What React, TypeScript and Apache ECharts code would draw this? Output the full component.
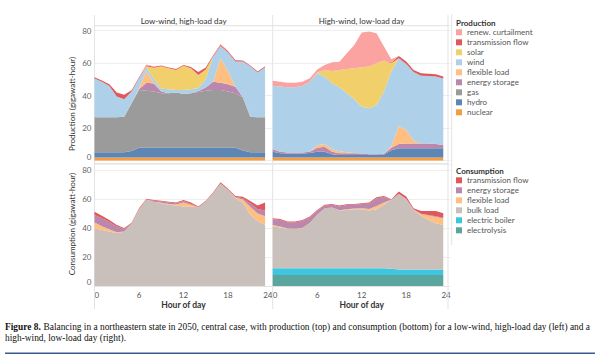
import React, { useEffect, useRef } from 'react';
import * as echarts from 'echarts';

const HOUR_CATS = ['0', '1', '2', '3', '4', '5', '6', '7', '8', '9', '10', '11', '12', '13', '14', '15', '16', '17', '18', '19', '20', '21', '22', '23', '24'];
const X_TICK_LABELS = ['0', '6', '12', '18', '24'];
const Y_TICKS = [0, 20, 40, 60, 80];

const PANEL_TITLES = ['Low-wind, high-load day', 'High-wind, low-load day'];
const PROD_NAMES = ['renew. curtailment', 'transmission flow', 'solar', 'wind', 'flexible load', 'energy storage', 'gas', 'hydro', 'nuclear'];
const CONS_NAMES = ['transmission flow', 'energy storage', 'flexible load', 'bulk load', 'electric boiler', 'electrolysis'];

// Low-wind, high-load day — production (hours 0..23)
const LP_nuclear = [1.9, 1.9, 1.9, 1.9, 1.9, 1.9, 1.9, 1.9, 1.9, 1.9, 1.9, 1.9, 1.9, 1.9, 1.9, 1.9, 1.9, 1.9, 1.9, 1.9, 1.9, 1.9, 1.9, 1.9];
const LP_hydro = [3.3, 3.3, 3.3, 3.3, 3.3, 4.1, 6.1, 6.1, 6.1, 6.1, 6.1, 6.1, 6.1, 6.1, 6.1, 6.1, 6.1, 6.1, 6.1, 6.1, 4.3, 3.3, 3.3, 3.3];
const LP_gas = [21.5, 21.5, 21.5, 21.5, 21.8, 29.3, 35.5, 35, 34.6, 33.5, 33.5, 33.9, 33, 33.5, 34.3, 35, 35.5, 35.5, 34.6, 33.5, 32.8, 21.8, 21.5, 21.5];
const LP_storage = [0, 0, 0, 0, 0, 0, 0.5, 5, 4.9, 1, 0, 0, 0, 0, 0.5, 2, 5, 4.5, 4.4, 4, 0, 0, 0, 0];
const LP_flex = [0, 0, 0, 0, 0, 0, 0.5, 7, 0.5, 0, 0, 0, 0, 0, 0, 0, 0, 15, 8, 0, 0, 0, 0, 0];
const LP_wind = [23.8, 21.8, 19.3, 12.8, 10.8, 7.2, 6, 2.5, 2.4, 1.7, 2.4, 1.6, 2.5, 2.4, 1.9, 5, 15.5, 7.5, 11.5, 15.5, 22, 31, 27.6, 30.8];
const LP_solar = [0, 0, 0, 0, 0, 0, 0, 0.5, 6.8, 13.8, 12.9, 12.3, 14.8, 13, 8, 6, 0, 0, 0, 0, 0, 0, 0, 0];
const LP_trans = [0.8, 0.8, 1, 2.5, 2.7, 0.8, 0.6, 0.7, 0.5, 0.5, 0.5, 0.6, 0.6, 0.7, 1.8, 1.3, 0.7, 0.8, 0.8, 0.7, 0.6, 0.6, 0.6, 0.6];
const LP_curt = [0, 0, 0, 0, 0, 0, 0.3, 0.4, 0.3, 0, 0, 0, 0, 0, 0, 0, 0.3, 0.4, 0.3, 0, 0, 0, 0, 0];

// High-wind, low-load day — production
const RP_nuclear = [1.9, 1.9, 1.9, 1.9, 1.9, 1.9, 1.9, 1.9, 1.9, 1.9, 1.9, 1.9, 1.9, 1.9, 1.9, 1.9, 1.9, 1.9, 1.9, 1.9, 1.9, 1.9, 1.9, 1.9];
const RP_hydro = [3.6, 2.7, 2.6, 2.6, 2.6, 2.9, 3.6, 3.6, 2.1, 1.6, 1.6, 1.6, 1.6, 1.6, 1.6, 1.9, 4.6, 5.7, 5.7, 5.7, 5.7, 5.7, 5.7, 5.7];
const RP_gas = [0, 0, 0, 0, 0, 0, 0, 0, 0, 0, 0, 0, 0, 0, 0, 0, 0, 0, 0, 0, 0, 0, 0, 0];
const RP_storage = [1.5, 0.9, 0.5, 0.5, 0.5, 0.7, 2.5, 3.1, 1.5, 1.1, 1.1, 1.1, 0.9, 0.5, 0.5, 0.4, 1.5, 2.7, 3.0, 3.0, 3.0, 2.9, 2.7, 2.0];
const RP_flex = [0, 0, 0, 0, 0, 0, 1.5, 1.7, 1.5, 1.2, 0.6, 0.2, 0.1, 0, 0, 0, 1, 11.1, 8.3, 1.7, 0, 0, 0, 0];
const RP_wind = [39.0, 40.1, 40.1, 40.1, 41.0, 43.1, 44.3, 41.4, 40.6, 39.3, 36.3, 33.0, 28.7, 28.2, 30.3, 38.3, 45.8, 41.6, 40.6, 42.2, 41.7, 41.5, 41.5, 40.9];
const RP_solar = [0, 0, 0, 0, 0, 0, 0.5, 4.1, 7.6, 10.7, 14.9, 19.0, 24.3, 25.7, 25.6, 19.1, 5.1, 0, 0, 0, 0, 0, 0, 0];
const RP_trans = [0, 0, 0, 0, 0, 0, 0, 0, 0, 0, 0, 0, 0, 0, 0, 0, 0.5, 1.4, 1.5, 1.3, 1.5, 1.4, 1.4, 1.2];
const RP_curt = [3.2, 3.0, 2.9, 2.9, 2.6, 2.1, 1.7, 3.1, 5.3, 5.1, 9.7, 14.4, 21.3, 21.5, 18.5, 8.6, 2.0, 0, 0, 0, 0, 0, 0, 0];

// Low-wind, high-load day — consumption
const LC_electrolysis = [0, 0, 0, 0, 0, 0, 0, 0, 0, 0, 0, 0, 0, 0, 0, 0, 0, 0, 0, 0, 0, 0, 0, 0];
const LC_boiler = [0, 0, 0, 0, 0, 0, 0, 0, 0, 0, 0, 0, 0, 0, 0, 0, 0, 0, 0, 0, 0, 0, 0, 0];
const LC_bulk = [39.8, 38.6, 37.5, 36.3, 37.5, 43, 52.9, 59.5, 58, 57, 55.9, 55.4, 54.8, 54.5, 54.3, 58.2, 64, 70.5, 66.2, 60.5, 57.5, 49, 44.8, 42];
const LC_flex = [3.9, 2.5, 1.5, 0.7, 0, 0, 0, 0, 0, 0.3, 0.6, 0.8, 2.7, 1.5, 0, 0, 0, 0, 0, 0.5, 2, 5.5, 5.2, 6];
const LC_storage = [5.2, 5.6, 5, 4, 2, 0, 0, 0, 0.7, 0.9, 1, 0.8, 1, 0.5, 0, 0, 0, 0, 0, 0.2, 1, 2.5, 3, 4];
const LC_trans = [2.3, 1.6, 1.5, 1, 0.5, 0.5, 0.6, 0.5, 0.5, 0.5, 0.5, 0.5, 0.7, 1, 0.5, 0.5, 0.5, 1, 0.8, 0.8, 1, 1.5, 2.5, 5.5];

// High-wind, low-load day — consumption
const RC_electrolysis = [7.6, 7.6, 7.6, 7.6, 7.6, 7.6, 7.6, 7.6, 7.6, 7.6, 7.6, 7.6, 7.6, 7.6, 7.6, 7.6, 7.6, 7.6, 7.6, 7.6, 7.6, 7.6, 7.6, 7.6];
const RC_boiler = [4.6, 4.6, 4.6, 4.6, 4.6, 4.6, 4.6, 4.6, 4.6, 4.6, 4.6, 4.6, 4.6, 4.6, 4.6, 4.6, 4.2, 3.8, 3.8, 3.8, 3.8, 3.8, 3.8, 3.8];
const RC_bulk = [28.7, 28.0, 27.1, 27.1, 27.6, 31.0, 36.7, 41.3, 41.8, 39.7, 40.2, 40.7, 40.7, 39.7, 40.7, 43.7, 47.5, 52.1, 47.9, 41.0, 36.9, 34.1, 31.8, 30.6];
const RC_flex = [1.1, 0.8, 0.3, 0.2, 0.2, 0.2, 0.1, 0.1, 0.1, 0.3, 0.4, 0.4, 0.6, 1.1, 2.1, 1.6, 0, 0, 0.2, 0.1, 1.2, 3, 4.3, 4.5];
const RC_storage = [4, 4.5, 4.2, 4.3, 5, 3.8, 2.8, 1.7, 1.9, 2.6, 2.9, 2.7, 3, 3.8, 5.3, 3.8, 0, 0, 0.5, 0.3, 0.3, 0.3, 0.5, 0.5];
const RC_trans = [0.7, 0.7, 0.6, 0.6, 0.5, 0.6, 0.6, 0.6, 0.5, 0.6, 0.6, 0.5, 0.5, 0.7, 0.8, 0.7, 0.5, 1.5, 1.6, 0.7, 1.9, 2.9, 3.7, 3.1];

const COLORS: Record<string, string> = {
  'renew. curtailment': '#fba3a0',
  'transmission flow': '#e0585b',
  solar: '#f1d06b',
  wind: '#aed0e8',
  'flexible load': '#ffbf80',
  'energy storage': '#bb87ac',
  gas: '#9b9b9b',
  hydro: '#5d86b4',
  nuclear: '#f59c3e',
  'bulk load': '#c9bfbb',
  'electric boiler': '#3ec6e0',
  electrolysis: '#5aa59e',
};

const UI_FONT = 'Lato, "Open Sans", sans-serif';

function area(name: string, values: number[], idx: number) {
  const c = COLORS[name];
  return {
    type: 'line',
    name,
    xAxisIndex: idx,
    yAxisIndex: idx,
    stack: 's' + idx,
    data: values,
    symbol: 'none',
    showSymbol: false,
    silent: true,
    color: c,
    itemStyle: { color: c },
    lineStyle: { width: 0, color: c },
    areaStyle: { color: c, opacity: 1 },
  };
}

export default function App() {
  const ref = useRef<HTMLDivElement>(null);
  useEffect(() => {
    if (!ref.current) return;
    const chart = echarts.init(ref.current, undefined, { renderer: 'svg' });

    const L = 94.5;
    const R = 272.7;
    const W = 178;
    const grids = [
      { left: L, top: 25.7, width: W, height: 135 },
      { left: R, top: 25.7, width: W, height: 135 },
      { left: L, top: 164, width: W, height: 122 },
      { left: R, top: 164, width: W, height: 122 },
    ];

    const xAxes = grids.map((_, i) => ({
      type: 'category',
      gridIndex: i,
      data: HOUR_CATS,
      boundaryGap: false,
      axisLine: { show: false },
      axisTick: { show: false },
      splitLine: { show: false },
      axisLabel: {
        show: i >= 2,
        interval: (_idx: number, v: string) => X_TICK_LABELS.includes(v),
        fontSize: 8,
        color: '#555',
        fontFamily: UI_FONT,
        margin: 5,
        alignMinLabel: 'left',
        alignMaxLabel: 'right',
      },
      name: i >= 2 ? 'Hour of day' : '',
      nameLocation: 'middle',
      nameGap: 14,
      nameTextStyle: { fontSize: 8.5, fontWeight: 'bold', color: '#333', fontFamily: UI_FONT },
    }));

    const yAxes = grids.map((_, i) => ({
      type: 'value',
      gridIndex: i,
      min: Y_TICKS[0],
      max: i < 2 ? 83 : 84,
      interval: 20,
      axisLine: { show: false },
      axisTick: { show: false },
      splitLine: { show: true, lineStyle: { color: '#eeeeee', width: 1 } },
      axisLabel: {
        show: i % 2 === 0,
        fontSize: 8,
        color: '#666',
        fontFamily: UI_FONT,
        margin: 3,
        verticalAlignMinLabel: 'bottom',
        formatter: (v: number) => (Y_TICKS.includes(v) ? String(v) : ''),
      },
    }));

    const series = [
      area('nuclear', LP_nuclear, 0),
      area('hydro', LP_hydro, 0),
      area('gas', LP_gas, 0),
      area('energy storage', LP_storage, 0),
      area('flexible load', LP_flex, 0),
      area('wind', LP_wind, 0),
      area('solar', LP_solar, 0),
      area('transmission flow', LP_trans, 0),
      area('renew. curtailment', LP_curt, 0),

      area('nuclear', RP_nuclear, 1),
      area('hydro', RP_hydro, 1),
      area('gas', RP_gas, 1),
      area('energy storage', RP_storage, 1),
      area('flexible load', RP_flex, 1),
      area('wind', RP_wind, 1),
      area('solar', RP_solar, 1),
      area('transmission flow', RP_trans, 1),
      area('renew. curtailment', RP_curt, 1),

      area('electrolysis', LC_electrolysis, 2),
      area('electric boiler', LC_boiler, 2),
      area('bulk load', LC_bulk, 2),
      area('flexible load', LC_flex, 2),
      area('energy storage', LC_storage, 2),
      area('transmission flow', LC_trans, 2),

      area('electrolysis', RC_electrolysis, 3),
      area('electric boiler', RC_boiler, 3),
      area('bulk load', RC_bulk, 3),
      area('flexible load', RC_flex, 3),
      area('energy storage', RC_storage, 3),
      area('transmission flow', RC_trans, 3),
    ];

    const legendBase = {
      orient: 'vertical',
      left: 456,
      itemWidth: 6,
      itemHeight: 6,
      itemGap: 0,
      icon: 'rect',
      selectedMode: false,
      padding: 0,
      textStyle: { fontSize: 8, lineHeight: 10, color: '#555', fontFamily: UI_FONT },
    };

    const lineStyle = { stroke: '#e3e3e3', lineWidth: 1 };
    const vline = (x: number, y1: number, y2: number) => ({
      type: 'line', silent: true, shape: { x1: x, y1, x2: x, y2 }, style: lineStyle, z: 1,
    });
    const hline = (y: number, x1: number, x2: number) => ({
      type: 'line', silent: true, shape: { x1, y1: y, x2, y2: y }, style: lineStyle, z: 1,
    });

    const captionFont = '"Liberation Serif", "DejaVu Serif", serif';

    chart.setOption({
      animation: false,
      grid: grids,
      xAxis: xAxes,
      yAxis: yAxes,
      series,
      legend: [
        { ...legendBase, top: 27.3, data: PROD_NAMES },
        { ...legendBase, top: 175.3, data: CONS_NAMES },
      ],
      graphic: [
        vline(94.5, 15, 309),
        vline(272.7, 15, 309),
        vline(448, 15, 309),
        vline(451.7, 14, 245),
        hline(25.7, 94.5, 448),
        hline(163.7, 94.5, 448),
        hline(286.5, 94.5, 448),
        {
          type: 'text', silent: true, x: 183.6, y: 21,
          style: { text: PANEL_TITLES[0], fontSize: 8, fill: '#333', fontFamily: UI_FONT, align: 'center', verticalAlign: 'middle' },
        },
        {
          type: 'text', silent: true, x: 361.5, y: 21,
          style: { text: PANEL_TITLES[1], fontSize: 8, fill: '#333', fontFamily: UI_FONT, align: 'center', verticalAlign: 'middle' },
        },
        {
          type: 'text', silent: true, x: 71.7, y: 104, rotation: Math.PI / 2,
          style: { text: 'Production (gigawatt-hour)', fontSize: 8, fill: '#333', fontFamily: UI_FONT, align: 'center', verticalAlign: 'middle' },
        },
        {
          type: 'text', silent: true, x: 71.7, y: 224, rotation: Math.PI / 2,
          style: { text: 'Consumption (gigawatt-hour)', fontSize: 8, fill: '#333', fontFamily: UI_FONT, align: 'center', verticalAlign: 'middle' },
        },
        {
          type: 'text', silent: true, x: 456, y: 22.7,
          style: { text: 'Production', fontSize: 8, fontWeight: 'bold', fill: '#333', fontFamily: UI_FONT, align: 'left', verticalAlign: 'middle' },
        },
        {
          type: 'text', silent: true, x: 456, y: 170.7,
          style: { text: 'Consumption', fontSize: 8, fontWeight: 'bold', fill: '#333', fontFamily: UI_FONT, align: 'left', verticalAlign: 'middle' },
        },
        {
          type: 'group', silent: true, x: 5, y: 327,
          children: [
            {
              type: 'text', x: 0, y: 0,
              style: { text: 'Figure 8.', fontSize: 9.4, fontWeight: 'bold', fill: '#111', fontFamily: captionFont, verticalAlign: 'middle' },
            },
            {
              type: 'text', x: 38.5, y: 0,
              style: {
                text: 'Balancing in a northeastern state in 2050, central case, with production (top) and consumption (bottom) for a low-wind, high-load day (left) and a',
                fontSize: 9.4, fill: '#111', fontFamily: captionFont, verticalAlign: 'middle',
              },
            },
            {
              type: 'text', x: 0, y: 11,
              style: { text: 'high-wind, low-load day (right).', fontSize: 9.4, fill: '#111', fontFamily: captionFont, verticalAlign: 'middle' },
            },
          ],
        },
        {
          type: 'line', silent: true, shape: { x1: 5, y1: 353.3, x2: 595, y2: 353.3 },
          style: { stroke: '#3a5a92', lineWidth: 1.5 },
        },
      ],
    });

    return () => chart.dispose();
  }, []);

  return (
    <div
      ref={ref}
      style={{ position: 'fixed', left: 0, top: 0, width: 600, height: 361, background: '#fff' }}
    />
  );
}
